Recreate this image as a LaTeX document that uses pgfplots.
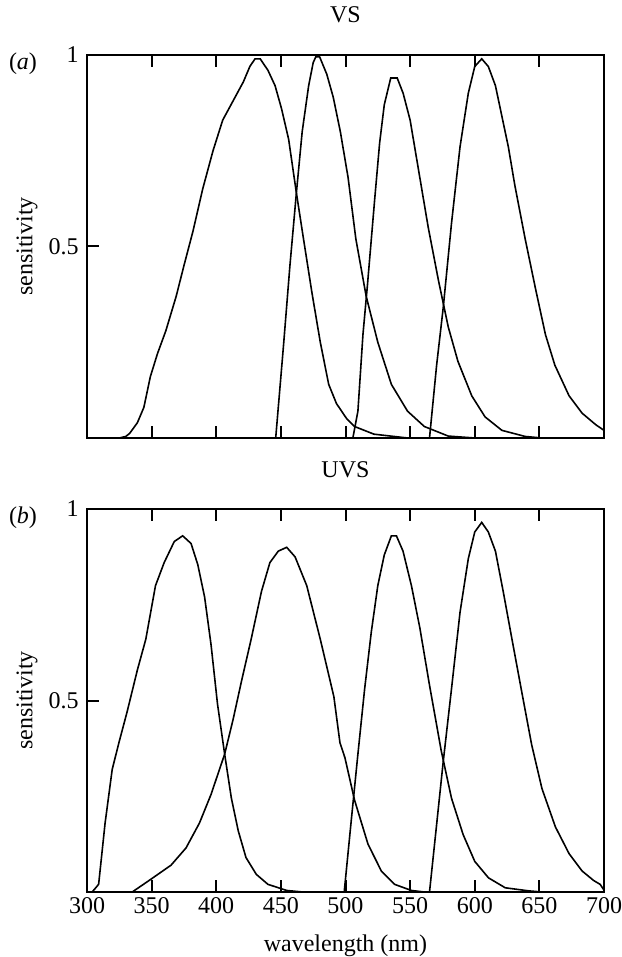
\documentclass[12pt,border=0pt]{standalone}
\usepackage{fontspec}
\setmainfont{Liberation Serif}
\usepackage{pgfplots}
\pgfplotsset{compat=1.18}

\pgfplotsset{
  panel/.style={
    scale only axis, width=258.5pt, height=191.5pt,
    xmin=300, xmax=700, ymin=0, ymax=1,
    xtick={300,350,...,700}, ytick={0.5,1},
    tick align=inside,
    xtick pos=both, ytick pos=left,
    major tick length=6pt,
    tick style={black, line width=1pt},
    axis line style={line width=1pt},
    /pgf/number format/assume math mode=true,
    ylabel={sensitivity},
    ylabel style={at={(axis description cs:-0.116,0.5)}, anchor=center},
    title style={at={(0.5,1)}, anchor=base, yshift=10pt},
    xticklabel style={yshift=1.5pt},
    clip=false,
  },
  crv/.style={black, line width=0.8pt, mark=none, sharp plot},
}

\begin{document}
\begin{tikzpicture}
\path[use as bounding box] (-43.5pt,-259.5pt) rectangle (267pt,219pt);

% (a) VS
\begin{axis}[panel, title={VS}, xticklabels={}]
\addplot[crv] coordinates {
 (300,0) (325,0) (330,0.004) (333,0.012) (339,0.04) (344,0.08) (349,0.16)
 (354.5,0.22) (361,0.28) (369,0.37) (375,0.45) (382,0.54) (389.5,0.65)
 (397.5,0.75) (405,0.83) (413,0.88) (421,0.93) (426,0.97) (430,0.99)
 (434,0.99) (440,0.96) (445.5,0.92) (450.5,0.86) (456,0.78) (462,0.64)
 (467.5,0.52) (474,0.38) (480.5,0.25) (487,0.14) (493,0.09) (497,0.07)
 (501,0.05) (507,0.03) (522,0.01) (548,0) (700,0)
};
\addplot[crv] coordinates {
 (300,0) (446,0) (452,0.24) (457,0.45) (462,0.64) (466.5,0.80) (471.5,0.92)
 (475,0.98) (477,0.995) (480,0.995) (485.5,0.95) (490.5,0.89) (496,0.80)
 (502,0.68) (508,0.52) (516,0.37) (525,0.25) (535.5,0.14) (548,0.07)
 (561,0.03) (579.5,0.005) (600,0) (700,0)
};
\addplot[crv] coordinates {
 (300,0) (505.7,0) (509.6,0.07) (513.5,0.27) (517,0.40) (522.5,0.62)
 (526.4,0.77) (530,0.87) (535,0.94) (540,0.94) (544.6,0.90) (550,0.83)
 (556,0.71) (564,0.55) (572,0.41) (579.5,0.29) (587,0.20) (597.7,0.11)
 (608,0.055) (621,0.02) (639,0.004) (652,0) (700,0)
};
\addplot[crv] coordinates {
 (300,0) (565,0) (570.5,0.19) (575.6,0.34) (582,0.56) (588.6,0.76) (595,0.90)
 (600,0.97) (605.4,0.99) (610.5,0.97) (616,0.92) (621,0.84) (626,0.76)
 (631,0.66) (639,0.52) (647,0.39) (654.7,0.27) (662,0.19) (673,0.11)
 (683,0.065) (693.5,0.035) (700,0.02)
};
\node at (rel axis cs:0,1) [xshift=-32pt, yshift=-4.5pt] {(\textit{a})};
\end{axis}

% (b) UVS
\begin{axis}[panel, at={(0,-227pt)}, title={UVS}, xlabel={wavelength (nm)},
  xlabel style={at={(axis description cs:0.5,0)}, anchor=center, yshift=-27pt}]
\addplot[crv] coordinates {
 (300,0) (304,0) (309,0.02) (314,0.18) (319.5,0.32) (324.7,0.39) (331,0.47)
 (339,0.58) (345.5,0.66) (353,0.80) (359.7,0.86) (367.5,0.915) (374,0.93)
 (380.5,0.91) (385.7,0.855) (391,0.77) (396,0.645) (401,0.49) (406.5,0.36)
 (411.7,0.245) (417,0.16) (423,0.09) (431,0.046) (440,0.02) (454.5,0.004)
 (467,0) (700,0)
};
\addplot[crv] coordinates {
 (300,0) (335,0) (348,0.03) (365,0.07) (376.6,0.115) (387,0.18) (396,0.255)
 (406.5,0.36) (413,0.45) (419.5,0.55) (427,0.66) (435,0.785) (441.5,0.86)
 (448,0.89) (454.5,0.90) (461,0.875) (470,0.80) (480.5,0.66) (491,0.51)
 (495.7,0.39) (499.6,0.35) (507,0.24) (517.4,0.125) (527.7,0.055) (538,0.02)
 (551,0.004) (561,0) (700,0)
};
\addplot[crv] coordinates {
 (300,0) (499,0) (504.4,0.185) (509.6,0.36) (514.8,0.53) (520,0.68) (525,0.80)
 (530,0.88) (535.5,0.93) (539.4,0.93) (544.5,0.89) (551,0.80) (557.5,0.69)
 (565,0.54) (574,0.37) (582,0.245) (591,0.15) (600,0.08) (610.6,0.037)
 (623.6,0.011) (641.7,0.003) (652,0) (700,0)
};
\addplot[crv] coordinates {
 (300,0) (565,0) (570.5,0.176) (575.6,0.34) (582,0.53) (588.6,0.73) (595,0.87)
 (600,0.94) (605.4,0.965) (610.5,0.94) (616,0.89) (622,0.785) (628.8,0.66)
 (636.5,0.52) (644,0.385) (652,0.27) (662.4,0.17) (673,0.10) (683,0.055)
 (692,0.03) (697,0.02) (700,0.005)
};
\node at (rel axis cs:0,1) [xshift=-32pt, yshift=-4.5pt] {(\textit{b})};
\end{axis}
\end{tikzpicture}
\end{document}
